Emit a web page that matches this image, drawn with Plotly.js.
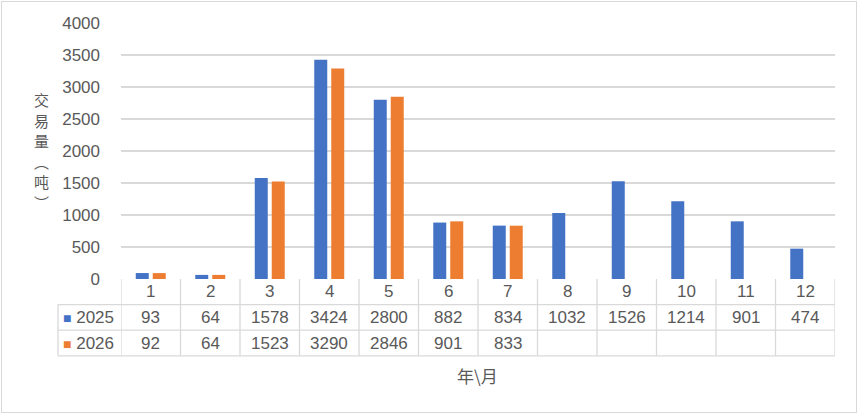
<!DOCTYPE html>
<html>
<head>
<meta charset="utf-8">
<script src="https://cdn.plot.ly/plotly-3.0.1.min.js"></script>
<style>
  body { margin: 0; background: #fff; }
  #wrap { position: relative; width: 859px; height: 415px; }
  #chart { width: 859px; height: 415px; }
  #frame { position: absolute; left: 1px; top: 1px; width: 854px; height: 410px;
           border: 1px solid #d9d9d9; pointer-events: none; }
</style>
</head>
<body>
<div id="wrap">
  <div id="chart"></div>
  <div id="frame"></div>
</div>
<script>
// data
var months = [1, 2, 3, 4, 5, 6, 7, 8, 9, 10, 11, 12];
var values2025 = [93, 64, 1578, 3424, 2800, 882, 834, 1032, 1526, 1214, 901, 474];
var values2026 = [92, 64, 1523, 3290, 2846, 901, 833, null, null, null, null, null];
var seriesNames = ['2025', '2026'];
var seriesColors = ['#4472C4', '#ED7D31'];
var yTitleChars = ['交', '易', '量', '︵', '吨', '︶'];

var textColor = '#595959';
var lineColor = '#d9d9d9';
var numFont = 'Liberation Sans, Arial, sans-serif';
var cjkFont = 'Noto Sans CJK SC, sans-serif';

var trace1 = {
    type: 'bar',
    name: seriesNames[0],
    x: months,
    y: values2025,
    marker: {color: seriesColors[0]},
    hoverinfo: 'x+y'
};

var trace2 = {
    type: 'bar',
    name: seriesNames[1],
    x: months,
    y: values2026,
    marker: {color: seriesColors[1]},
    hoverinfo: 'x+y'
};

// data table under the plot
var rowY = [-0.05, -0.149, -0.25];   // header, 2025, 2026 row centres (paper)
var rowLines = [-0.1, -0.2, -0.3];
var legendLeft = -0.0882;             // left edge of the legend column (x domain)

var shapes = [];
var annotations = [];

// vertical column lines
for (var i = 0; i <= months.length; i++) {
    shapes.push({
        type: 'line', xref: 'x', yref: 'paper',
        x0: i + 0.5, x1: i + 0.5, y0: 0, y1: rowLines[2],
        line: {color: lineColor, width: 1.3}
    });
}
// left edge of legend column
shapes.push({
    type: 'line', xref: 'x domain', yref: 'paper',
    x0: legendLeft, x1: legendLeft, y0: rowLines[0], y1: rowLines[2],
    line: {color: lineColor, width: 1.3}
});
// horizontal row lines
for (var r = 0; r < rowLines.length; r++) {
    shapes.push({
        type: 'line', xref: 'x domain', yref: 'paper',
        x0: legendLeft, x1: 1, y0: rowLines[r], y1: rowLines[r],
        line: {color: lineColor, width: 1.3}
    });
}

// header: month numbers
months.forEach(function (m) {
    annotations.push({
        xref: 'x', yref: 'paper', x: m, y: rowY[0],
        xanchor: 'center', yanchor: 'middle',
        text: String(m), showarrow: false,
        font: {family: numFont, size: 17, color: textColor}
    });
});

// value rows
[values2025, values2026].forEach(function (vals, s) {
    vals.forEach(function (v, k) {
        if (v === null) return;
        annotations.push({
            xref: 'x', yref: 'paper', x: months[k], y: rowY[s + 1],
            xanchor: 'center', yanchor: 'middle',
            text: String(v), showarrow: false,
            font: {family: numFont, size: 17, color: textColor}
        });
    });
    annotations.push({
        xref: 'paper', yref: 'paper', x: legendLeft + 0.004, y: rowY[s + 1],
        xanchor: 'left', yanchor: 'middle',
        text: '<span style="color:' + seriesColors[s] + ';font-size:14px">■</span> ' + seriesNames[s],
        showarrow: false,
        font: {family: numFont, size: 17, color: textColor}
    });
});

// y axis title, one character per line (vertical text)
yTitleChars.forEach(function (ch, k) {
    annotations.push({
        xref: 'paper', yref: 'paper', x: -0.111, y: 0.70 - k * 0.08,
        xanchor: 'center', yanchor: 'middle',
        text: ch, showarrow: false,
        font: {family: cjkFont, size: 15, color: textColor}
    });
});

// x axis title
annotations.push({
    xref: 'paper', yref: 'paper', x: 0.499, y: -0.375,
    xanchor: 'center', yanchor: 'middle',
    text: '年\\月', showarrow: false,
    font: {family: cjkFont, size: 17, color: textColor}
});

var layout = {
    width: 859,
    height: 415,
    margin: {l: 121, r: 24, t: 23, b: 136},
    paper_bgcolor: '#ffffff',
    plot_bgcolor: '#ffffff',
    barmode: 'group',
    bargap: 0.429,
    bargroupgap: 0.235,
    showlegend: false,
    xaxis: {
        range: [0.5, 12.5],
        showticklabels: false,
        showgrid: false,
        zeroline: false,
        fixedrange: true
    },
    yaxis: {
        range: [0, 4000],
        dtick: 500,
        showgrid: true,
        gridcolor: lineColor,
        gridwidth: 1.3,
        zeroline: false,
        ticks: '',
        ticklabelstandoff: 20,
        tickfont: {family: numFont, size: 17, color: textColor},
        fixedrange: true
    },
    shapes: shapes,
    annotations: annotations
};

Plotly.newPlot('chart', [trace1, trace2], layout, {displayModeBar: false, staticPlot: true});
</script>
</body>
</html>
